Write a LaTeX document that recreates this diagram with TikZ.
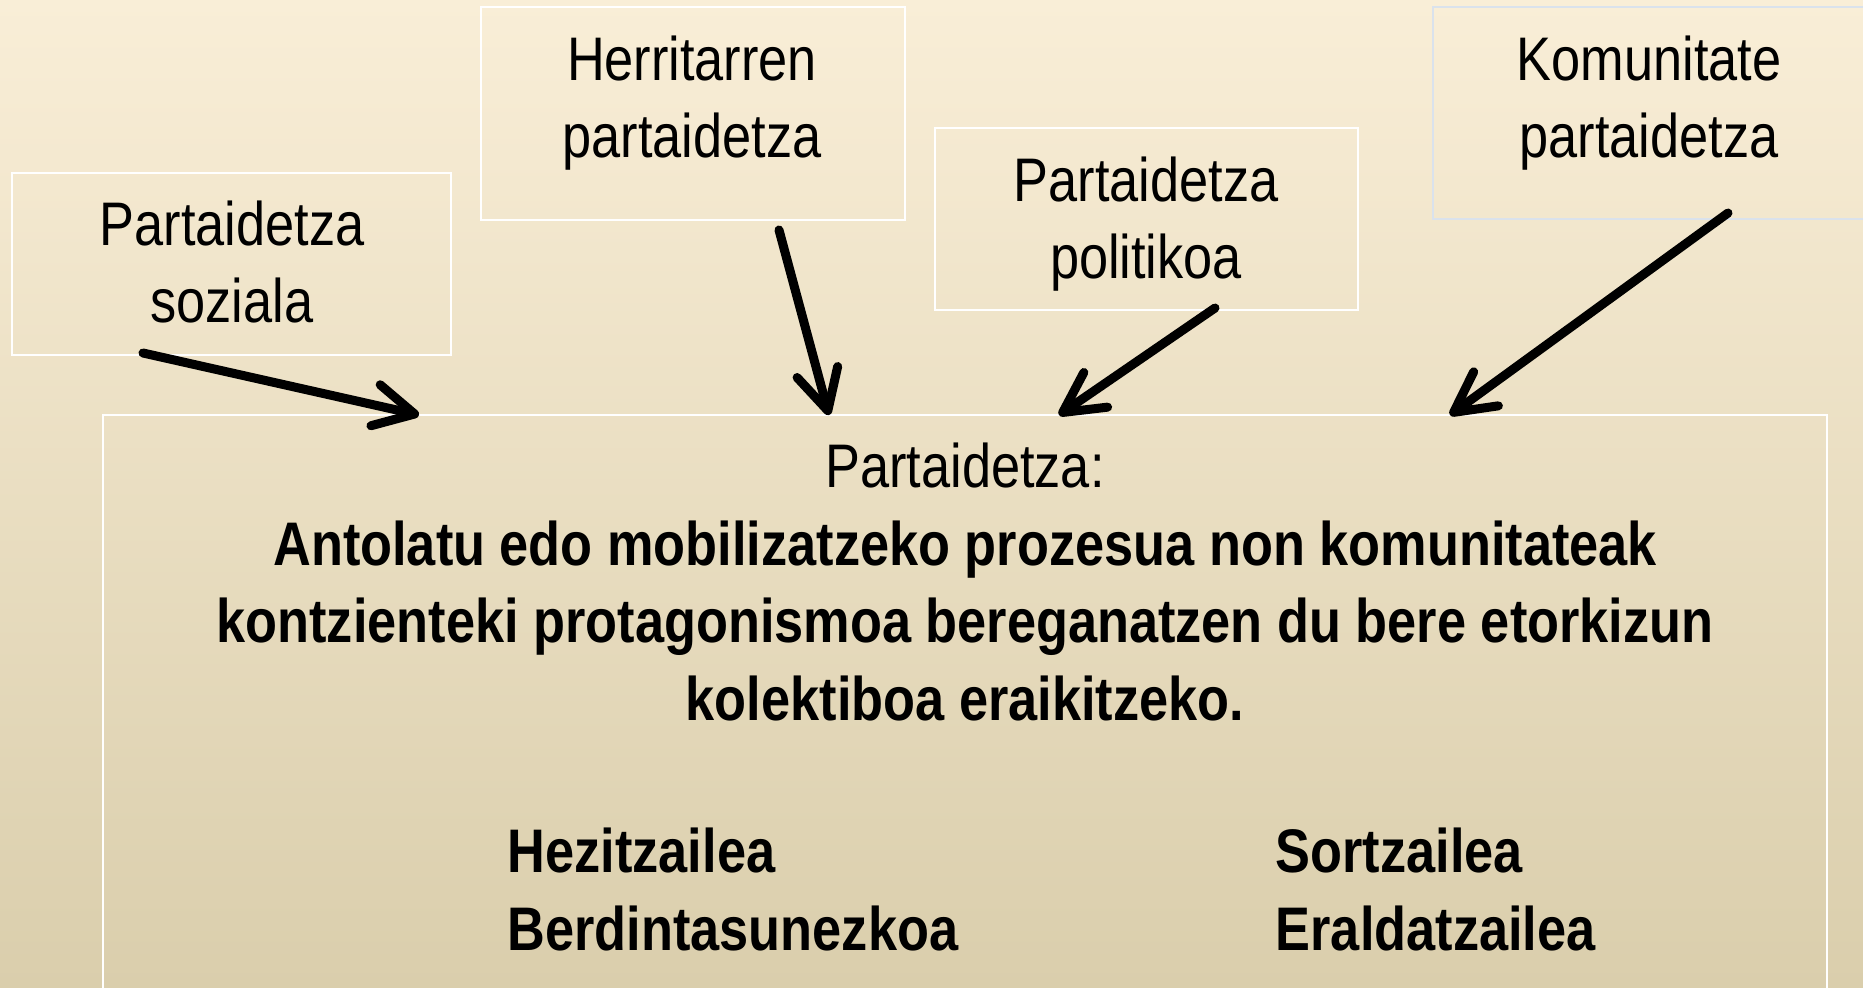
\documentclass[tikz,border=0pt]{standalone}
\usepackage{fontspec}
\setmainfont[FakeStretch=0.85]{Liberation Sans}
\usetikzlibrary{arrows.meta}
\definecolor{bgtop}{RGB}{249,238,215}
\definecolor{bgbot}{RGB}{218,206,172}
\definecolor{bluebord}{RGB}{218,226,236}
\begin{document}
\begin{tikzpicture}[x=0.01cm,y=-0.01cm,
  txt/.style={font=\fontsize{17.5}{21.9}\selectfont, inner sep=0pt, align=center, anchor=base},
  bigtxt/.style={font=\fontsize{17.5}{21.9}\selectfont\bfseries, inner sep=0pt, align=center, anchor=base},
  boxnode/.style={draw=white, line width=0.02cm, inner sep=0pt},
  arr/.style={line width=0.09cm, line cap=round, -{Straight Barb[length=0.4cm,width=0.42cm,round]}}]
\useasboundingbox (0,0) rectangle (1863,988);
\clip (0,0) rectangle (1863,988);
\shade[top color=bgtop,bottom color=bgbot] (0,0) rectangle (1863,988);
% boxes
\node[boxnode, minimum width=4.39cm, minimum height=1.82cm] (b1) at (231.5,264) {};
\node[boxnode, minimum width=4.24cm, minimum height=2.13cm] (b2) at (693,113.5) {};
\node[boxnode, minimum width=4.23cm, minimum height=1.82cm] (b3) at (1146.5,219) {};
\node[boxnode, draw=bluebord, minimum width=4.47cm, minimum height=2.12cm] (b4) at (1656.5,113) {};
\node[boxnode, minimum width=17.23cm, minimum height=5.95cm] (main) at (964.5,712.5) {};
% texts (anchor base = baseline of the last line)
\node[txt] (t1) at (232,323) {Partaidetza\\soziala};
\node[txt] (t2) at (692,158) {Herritarren\\partaidetza};
\node[txt] (t3) at (1146,279) {Partaidetza\\politikoa};
\node[txt] (t4) at (1649,158) {Komunitate\\partaidetza};
\node[txt] (m0) at (965,487) {Partaidetza:};
\node[bigtxt] (m1) at (965,720) {Antolatu edo mobilizatzeko prozesua non komunitateak\\kontzienteki protagonismoa bereganatzen du bere etorkizun\\kolektiboa eraikitzeko.};
\node[bigtxt, align=left, anchor=base west] (h1) at (507,950) {Hezitzailea\\Berdintasunezkoa};
\node[bigtxt, align=left, anchor=base west] (s1t) at (1275,950) {Sortzailea\\Eraldatzailea};
% arrows
\coordinate (s1) at (143,353); \coordinate (e1) at (419,415);
\coordinate (s2) at (779,230); \coordinate (e2) at (829,415);
\coordinate (s3) at (1215,308); \coordinate (e3) at (1059,415);
\coordinate (s4) at (1728,213); \coordinate (e4) at (1450,415);
\draw[arr] (s1) -- (e1);
\draw[arr] (s2) -- (e2);
\draw[arr] (s3) -- (e3);
\draw[arr] (s4) -- (e4);
\end{tikzpicture}
\end{document}
